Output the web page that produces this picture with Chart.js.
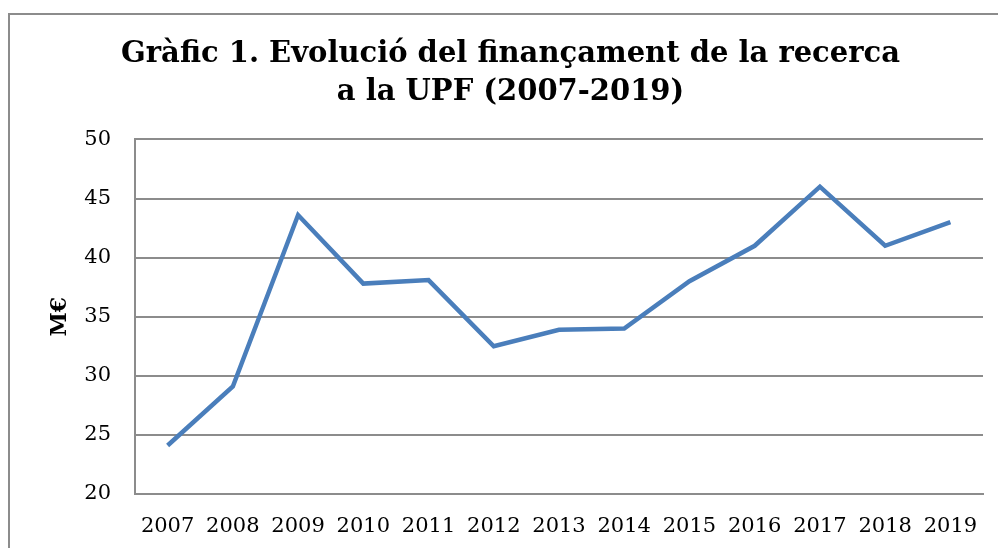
<!DOCTYPE html>
<html>
<head>
<meta charset="utf-8">
<script src="https://cdn.jsdelivr.net/npm/chart.js@4.4.1/dist/chart.umd.min.js"></script>
<style>
    html, body { margin: 0; padding: 0; background: #fff; }
    #wrap { position: relative; width: 998px; height: 548px; overflow: hidden; }
    #frame { position: absolute; left: 8px; top: 13px; width: 1100px; height: 700px; border: 2px solid #8c8c8c; box-sizing: border-box; }
    canvas { position: absolute; left: 0; top: 0; }
</style>
</head>
<body>
<div id="wrap">
    <div id="frame"></div>
    <canvas id="fundingChart" width="998" height="548"></canvas>
</div>
<script>
// Chart data
const years = ['2007', '2008', '2009', '2010', '2011', '2012', '2013', '2014', '2015', '2016', '2017', '2018', '2019'];
const funding = [24.1, 29.1, 43.6, 37.8, 38.1, 32.5, 33.9, 34.0, 38.0, 41.0, 46.0, 41.0, 43.0];
const titleLines = ['Gràfic 1. Evolució del finançament de la recerca', 'a la UPF (2007-2019)'];
const yAxisTitle = 'M€';

const serif = "'DejaVu Serif', 'Liberation Serif', serif";

document.addEventListener('DOMContentLoaded', function() {
    const ctx = document.getElementById('fundingChart').getContext('2d');

    new Chart(ctx, {
        type: 'line',
        data: {
            labels: years,
            datasets: [{
                data: funding,
                borderColor: '#4a7ebb',
                borderWidth: 4.5,
                pointRadius: 0,
                tension: 0,
                fill: false
            }]
        },
        options: {
            responsive: false,
            animation: false,
            layout: {
                // left padding shifts the centred title to the right, like the original
                padding: { left: 38, right: 15, top: 0, bottom: 0 }
            },
            plugins: {
                legend: { display: false },
                tooltip: { enabled: false },
                title: {
                    display: true,
                    text: titleLines,
                    color: '#000',
                    font: { family: serif, size: 29, weight: 'bold', lineHeight: 1.3 },
                    padding: { top: 36, bottom: 28 }
                }
            },
            scales: {
                y: {
                    min: 20,
                    max: 50,
                    ticks: {
                        stepSize: 5,
                        color: '#000',
                        padding: 24,
                        font: { family: serif, size: 21 }
                    },
                    grid: {
                        color: '#8c8c8c',
                        lineWidth: 2,
                        drawTicks: false
                    },
                    border: { color: '#8c8c8c', width: 2 },
                    title: {
                        display: true,
                        text: yAxisTitle,
                        color: '#000',
                        font: { family: serif, size: 22, weight: 'bold', lineHeight: 1 },
                        padding: { top: 11, bottom: 0 }
                    },
                    afterFit: function(scale) {
                        scale.width = 97;
                    }
                },
                x: {
                    offset: true,
                    ticks: {
                        color: '#000',
                        padding: 20,
                        maxRotation: 0,
                        autoSkip: false,
                        font: { family: serif, size: 21 }
                    },
                    grid: { display: false, drawTicks: false },
                    border: { color: '#8c8c8c', width: 2 },
                    afterFit: function(scale) {
                        scale.height = 54;
                    }
                }
            }
        }
    });
});
</script>
</body>
</html>
